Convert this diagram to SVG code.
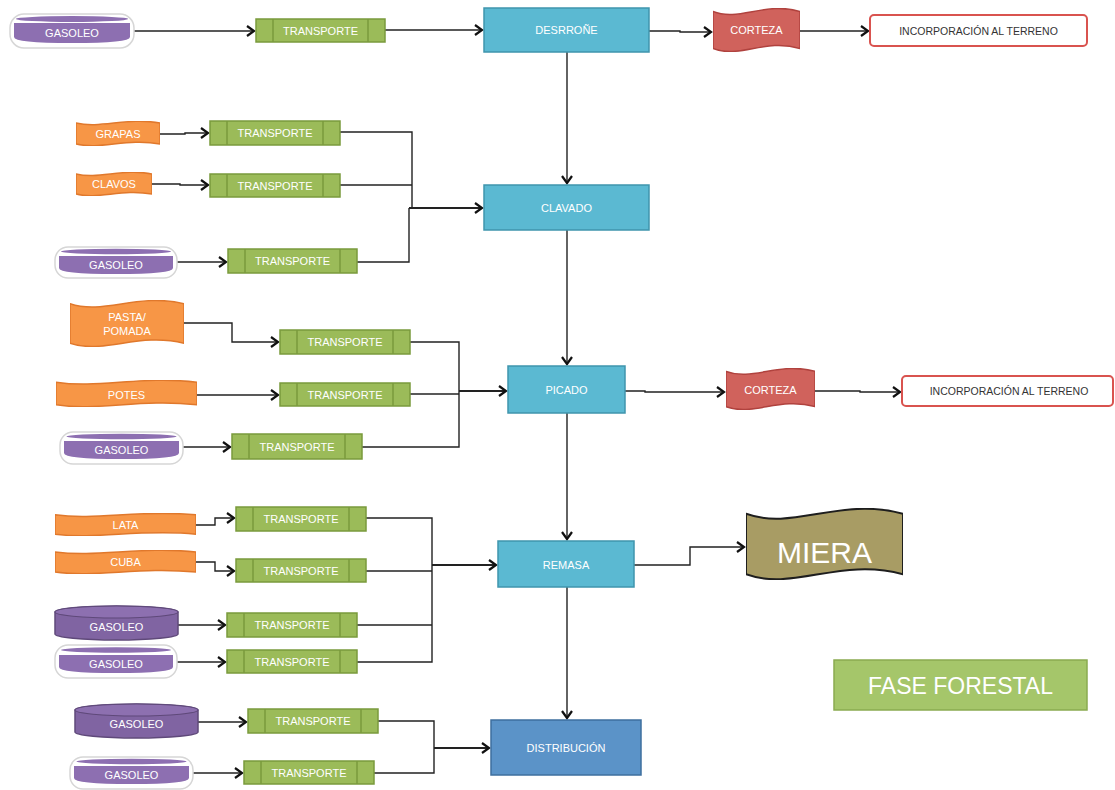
<svg xmlns="http://www.w3.org/2000/svg" xmlns:xlink="http://www.w3.org/1999/xlink" width="1115" height="790" viewBox="0 0 1115 790">
<style>
text{font-family:"Liberation Sans",Arial,sans-serif;text-anchor:middle;dominant-baseline:central}
.lbl{fill:#fff;font-size:11px}
.dark{fill:#333;font-size:10.5px}
.tr rect{fill:#9bbb59;stroke:#7a9a3c;stroke-width:1.5}
.tr line{stroke:#7a9a3c;stroke-width:1.5}
.box{fill:#5bb9d2;stroke:#3f95ad;stroke-width:1.5}
.inc{fill:#fff;stroke:#d9534f;stroke-width:2}
.rim{fill:#fff;stroke:#d6d6d6;stroke-width:1.5}
.pur{fill:#8d6fb1}
.cyl{fill:#8064a2;stroke:#5f497a;stroke-width:1.5}
.cylTop{fill:#8d70b0;stroke:#5f497a;stroke-width:1.2}
.wave path{vector-effect:non-scaling-stroke}
.conn path{fill:none;stroke:#222;stroke-width:1.4}
.conn path.a{marker-end:url(#arr)}
.conn path.t{stroke-width:2}
</style>
<defs>
<marker id="arr" markerUnits="userSpaceOnUse" markerWidth="12" markerHeight="12" refX="8" refY="6" orient="auto">
<path d="M1,1 L8,6 L1,11" fill="none" stroke="#111" stroke-width="2.2"/>
</marker>
<symbol id="waveO" viewBox="0 0 100 100" preserveAspectRatio="none">
<path d="M0,8 C30,32 60,-16 100,8 L100,92 C60,68 30,116 0,92 Z" fill="#f79646" stroke="#e0782c" stroke-width="1.5" vector-effect="non-scaling-stroke"/>
</symbol>
<symbol id="waveR" viewBox="0 0 100 100" preserveAspectRatio="none">
<path d="M0,8 C30,32 60,-16 100,8 L100,92 C60,68 30,116 0,92 Z" fill="#d0625c" stroke="#b0423e" stroke-width="1.5" vector-effect="non-scaling-stroke"/>
</symbol>
<symbol id="waveM" viewBox="0 0 100 100" preserveAspectRatio="none">
<path d="M0,8 C30,32 60,-16 100,8 L100,92 C60,68 30,116 0,92 Z" fill="#a89c64" stroke="#1e1e1e" stroke-width="2" vector-effect="non-scaling-stroke"/>
</symbol>
</defs>
<rect width="1115" height="790" fill="#fff"/>

<g class="conn" id="connectors">
<path class="a" d="M134,31 H254"/>
<path class="a" d="M385,30 H482"/>
<path class="a" d="M649,31 H680 V32 H711"/>
<path class="a" d="M800,31 H868"/>
<path class="a" d="M567,52 V183"/>
<path class="a" d="M160,134 H185 V133 H208"/>
<path class="a" d="M152,184 H180 V185 H208"/>
<path class="a" d="M177,262 H226"/>
<path d="M340,132 H412 V208"/>
<path d="M340,185 H412"/>
<path d="M357,262 H409 V208"/>
<path class="a t" d="M409,208 H482"/>
<path class="a" d="M567,230 V364"/>
<path class="a" d="M184,323 H232 V342 H278"/>
<path class="a" d="M197,395 H278"/>
<path class="a" d="M183,447 H230"/>
<path d="M410,342 H459 V447 H362"/>
<path d="M410,394 H459"/>
<path class="a t" d="M459,391 H506"/>
<path class="a" d="M625,391 H645 V392 H724"/>
<path class="a" d="M815,391 H860 V392 H900"/>
<path class="a" d="M567,413 V539"/>
<path class="a" d="M196,525 H215 V518 H234"/>
<path class="a" d="M196,562 H215 V571 H234"/>
<path class="a" d="M178,625 H225"/>
<path class="a" d="M177,662 H225"/>
<path d="M366,518 H432 V662 H357"/>
<path d="M366,571 H432"/>
<path d="M357,625 H432"/>
<path class="a t" d="M432,565 H496"/>
<path class="a" d="M634,565 H690 V547 H744"/>
<path class="a" d="M567,587 V718"/>
<path class="a" d="M198,722 H246"/>
<path class="a" d="M193,773 H242"/>
<path d="M378,721 H434 V773 H374"/>
<path class="a t" d="M434,748 H489"/>
</g>

<!-- Row 1 -->
<g id="gasoleo1">
<rect class="rim" x="10" y="14" width="124" height="34" rx="14"/>
<ellipse class="pur" cx="72" cy="19" rx="56" ry="3"/>
<path class="pur" d="M14,23 H130 V37 Q130,43 72,43 Q14,43 14,37 Z"/>
<text class="lbl" x="72" y="33">GASOLEO</text>
</g>
<g id="transporte1" class="tr">
<rect x="256" y="19" width="129" height="23"/><line x1="273" y1="19" x2="273" y2="42"/><line x1="368" y1="19" x2="368" y2="42"/>
<text class="lbl" x="320.5" y="30.5">TRANSPORTE</text>
</g>
<g id="desrrone">
<rect class="box" x="484" y="8" width="165" height="44"/>
<text class="lbl" x="566.5" y="30">DESRROÑE</text>
</g>
<g id="corteza1">
<use href="#waveR" x="713" y="8" width="87" height="44"/>
<text class="lbl" x="756.5" y="30">CORTEZA</text>
</g>
<g id="incorporacion1">
<rect class="inc" x="870" y="15" width="217" height="31" rx="4"/>
<text class="dark" x="978.5" y="30.5">INCORPORACIÓN AL TERRENO</text>
</g>

<!-- Clavado group -->
<g id="grapas">
<use href="#waveO" x="76" y="121" width="84" height="25"/>
<text class="lbl" x="118" y="133.5">GRAPAS</text>
</g>
<g id="transporte2" class="tr">
<rect x="210" y="121" width="130" height="24"/><line x1="227" y1="121" x2="227" y2="145"/><line x1="323" y1="121" x2="323" y2="145"/>
<text class="lbl" x="275" y="133">TRANSPORTE</text>
</g>
<g id="clavos">
<use href="#waveO" x="76" y="172" width="76" height="24"/>
<text class="lbl" x="114" y="184">CLAVOS</text>
</g>
<g id="transporte3" class="tr">
<rect x="210" y="174" width="130" height="23"/><line x1="227" y1="174" x2="227" y2="197"/><line x1="323" y1="174" x2="323" y2="197"/>
<text class="lbl" x="275" y="185.5">TRANSPORTE</text>
</g>
<g id="gasoleo2">
<rect class="rim" x="55" y="247" width="122" height="31" rx="13"/>
<ellipse class="pur" cx="116" cy="251.5" rx="55" ry="2.8"/>
<path class="pur" d="M59,256 H173 V268 Q173,274 116,274 Q59,274 59,268 Z"/>
<text class="lbl" x="116" y="265">GASOLEO</text>
</g>
<g id="transporte4" class="tr">
<rect x="228" y="249" width="129" height="24"/><line x1="245" y1="249" x2="245" y2="273"/><line x1="340" y1="249" x2="340" y2="273"/>
<text class="lbl" x="292.5" y="261">TRANSPORTE</text>
</g>
<g id="clavado">
<rect class="box" x="484" y="185" width="165" height="45"/>
<text class="lbl" x="566.5" y="208">CLAVADO</text>
</g>

<!-- Picado group -->
<g id="pasta">
<use href="#waveO" x="70" y="300" width="114" height="47"/>
<text class="lbl" x="127" y="317">PASTA/</text>
<text class="lbl" x="127" y="331">POMADA</text>
</g>
<g id="transporte5" class="tr">
<rect x="280" y="330" width="130" height="24"/><line x1="297" y1="330" x2="297" y2="354"/><line x1="393" y1="330" x2="393" y2="354"/>
<text class="lbl" x="345" y="342">TRANSPORTE</text>
</g>
<g id="potes">
<use href="#waveO" x="56" y="380" width="141" height="27"/>
<text class="lbl" x="126.5" y="395">POTES</text>
</g>
<g id="transporte6" class="tr">
<rect x="280" y="383" width="130" height="23"/><line x1="297" y1="383" x2="297" y2="406"/><line x1="393" y1="383" x2="393" y2="406"/>
<text class="lbl" x="345" y="394.5">TRANSPORTE</text>
</g>
<g id="gasoleo3">
<rect class="rim" x="60" y="432" width="123" height="32" rx="13"/>
<ellipse class="pur" cx="121.5" cy="436.5" rx="55" ry="2.8"/>
<path class="pur" d="M64,441 H179 V453 Q179,459 121.5,459 Q64,459 64,453 Z"/>
<text class="lbl" x="121.5" y="450">GASOLEO</text>
</g>
<g id="transporte7" class="tr">
<rect x="232" y="434" width="130" height="25"/><line x1="249" y1="434" x2="249" y2="459"/><line x1="345" y1="434" x2="345" y2="459"/>
<text class="lbl" x="297" y="446.5">TRANSPORTE</text>
</g>
<g id="picado">
<rect class="box" x="508" y="366" width="117" height="47"/>
<text class="lbl" x="566.5" y="390">PICADO</text>
</g>
<g id="corteza2">
<use href="#waveR" x="726" y="368" width="89" height="42"/>
<text class="lbl" x="770.5" y="390">CORTEZA</text>
</g>
<g id="incorporacion2">
<rect class="inc" x="902" y="376" width="211" height="30" rx="4"/>
<text class="dark" x="1009" y="391">INCORPORACIÓN AL TERRENO</text>
</g>

<!-- Remasa group -->
<g id="lata">
<use href="#waveO" x="55" y="513" width="141" height="23"/>
<text class="lbl" x="125.5" y="524.5">LATA</text>
</g>
<g id="transporte8" class="tr">
<rect x="236" y="507" width="130" height="24"/><line x1="253" y1="507" x2="253" y2="531"/><line x1="349" y1="507" x2="349" y2="531"/>
<text class="lbl" x="301" y="519">TRANSPORTE</text>
</g>
<g id="cuba">
<use href="#waveO" x="55" y="550" width="141" height="24"/>
<text class="lbl" x="125.5" y="562">CUBA</text>
</g>
<g id="transporte9" class="tr">
<rect x="236" y="559" width="130" height="23"/><line x1="253" y1="559" x2="253" y2="582"/><line x1="349" y1="559" x2="349" y2="582"/>
<text class="lbl" x="301" y="570.5">TRANSPORTE</text>
</g>
<g id="gasoleo4">
<path class="cyl" d="M55,612 A61.5,6 0 0 1 178,612 V634 A61.5,6 0 0 1 55,634 Z"/>
<ellipse class="cylTop" cx="116.5" cy="612" rx="61.5" ry="6"/>
<text class="lbl" x="116.5" y="627">GASOLEO</text>
</g>
<g id="transporte10" class="tr">
<rect x="227" y="613" width="130" height="24"/><line x1="244" y1="613" x2="244" y2="637"/><line x1="340" y1="613" x2="340" y2="637"/>
<text class="lbl" x="292" y="625">TRANSPORTE</text>
</g>
<g id="gasoleo5">
<rect class="rim" x="55" y="645" width="122" height="33" rx="13"/>
<ellipse class="pur" cx="116" cy="650" rx="55" ry="2.8"/>
<path class="pur" d="M59,655 H173 V667 Q173,673 116,673 Q59,673 59,667 Z"/>
<text class="lbl" x="116" y="664">GASOLEO</text>
</g>
<g id="transporte11" class="tr">
<rect x="227" y="650" width="130" height="23"/><line x1="244" y1="650" x2="244" y2="673"/><line x1="340" y1="650" x2="340" y2="673"/>
<text class="lbl" x="292" y="661.5">TRANSPORTE</text>
</g>
<g id="remasa">
<rect class="box" x="498" y="541" width="136" height="46"/>
<text class="lbl" x="566" y="565">REMASA</text>
</g>
<g id="miera">
<use href="#waveM" x="746" y="508" width="157" height="72"/>
<text x="824.5" y="552" style="fill:#fff;font-size:30px">MIERA</text>
</g>

<!-- Distribucion group -->
<g id="gasoleo6">
<path class="cyl" d="M75,710 A61.5,6 0 0 1 198,710 V732 A61.5,6 0 0 1 75,732 Z"/>
<ellipse class="cylTop" cx="136.5" cy="710" rx="61.5" ry="6"/>
<text class="lbl" x="136.5" y="724">GASOLEO</text>
</g>
<g id="transporte12" class="tr">
<rect x="248" y="709" width="130" height="24"/><line x1="265" y1="709" x2="265" y2="733"/><line x1="361" y1="709" x2="361" y2="733"/>
<text class="lbl" x="313" y="721">TRANSPORTE</text>
</g>
<g id="gasoleo7">
<rect class="rim" x="70" y="757" width="123" height="32" rx="13"/>
<ellipse class="pur" cx="131.5" cy="761.5" rx="55" ry="2.8"/>
<path class="pur" d="M74,766 H189 V778 Q189,784 131.5,784 Q74,784 74,778 Z"/>
<text class="lbl" x="131.5" y="775">GASOLEO</text>
</g>
<g id="transporte13" class="tr">
<rect x="244" y="761" width="130" height="23"/><line x1="261" y1="761" x2="261" y2="784"/><line x1="357" y1="761" x2="357" y2="784"/>
<text class="lbl" x="309" y="772.5">TRANSPORTE</text>
</g>
<g id="distribucion">
<rect x="491" y="720" width="150" height="55" fill="#5b93c8" stroke="#3e6f9e" stroke-width="1.5"/>
<text class="lbl" x="566" y="748">DISTRIBUCIÓN</text>
</g>

<g id="fase-forestal">
<rect x="834" y="660" width="253" height="50" fill="#a5c66a" stroke="#8aab50" stroke-width="1.5"/>
<text x="960.5" y="686" style="fill:#fff;font-size:23px">FASE FORESTAL</text>
</g>
</svg>
